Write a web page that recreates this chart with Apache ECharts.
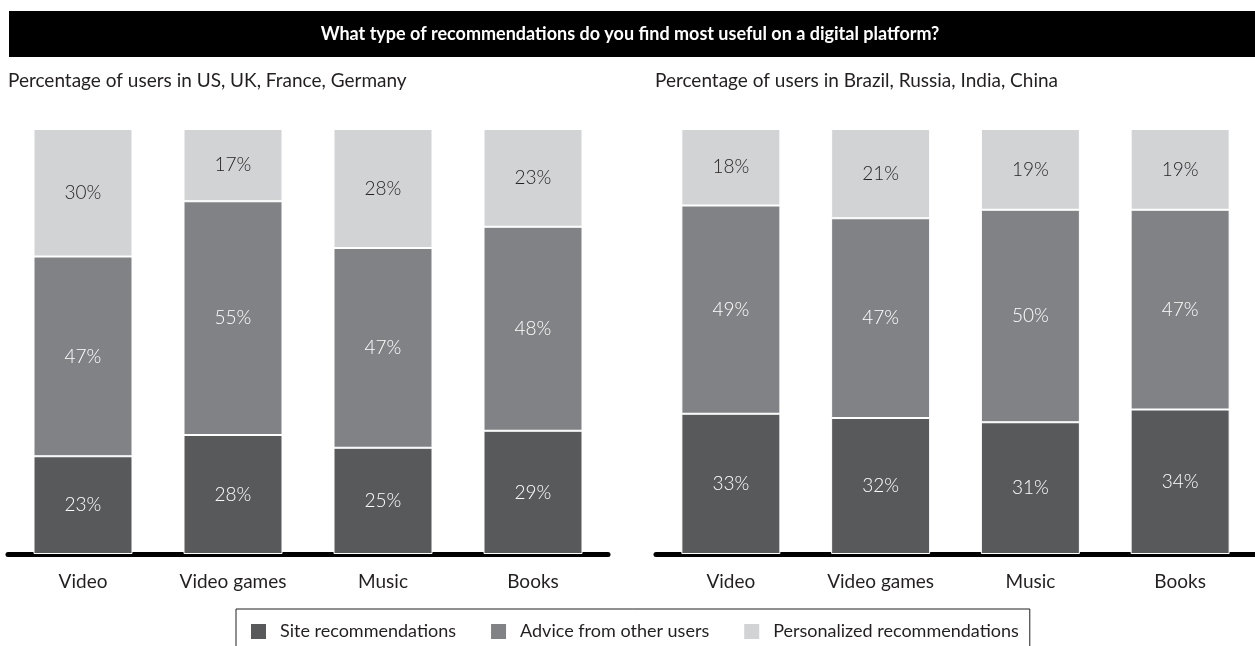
<!DOCTYPE html>
<html>
<head>
<meta charset="utf-8">
<script src="https://cdn.jsdelivr.net/npm/echarts@6/dist/echarts.min.js"></script>
<style>
  html, body { margin: 0; padding: 0; background: #fff; }
  #chart { width: 1255px; height: 646px; }
</style>
</head>
<body>
<div id="chart"></div>
<script>
// Survey categories (same for both regions)
const categories = ['Video', 'Video games', 'Music', 'Books'];

// US, UK, France, Germany (%)
const westSite = [23, 28, 25, 29];
const westAdvice = [47, 55, 47, 48];
const westPersonal = [30, 17, 28, 23];

// Brazil, Russia, India, China (%)
const bricSite = [33, 32, 31, 34];
const bricAdvice = [49, 47, 50, 47];
const bricPersonal = [18, 21, 19, 19];

const seriesNames = ['Site recommendations', 'Advice from other users', 'Personalized recommendations'];
const colors = ['#58595b', '#808285', '#d1d3d4'];
const labelColors = ['#ffffff', '#ffffff', '#231f20'];

const FONT = 'Lato, "Open Sans", sans-serif';
const TEXT = '#231f20';

function stackSeries(values, idx) {
  return values.map((vals, i) => ({
    name: seriesNames[i],
    type: 'bar',
    stack: 'g' + idx,
    xAxisIndex: idx,
    yAxisIndex: idx,
    barWidth: 99,
    data: vals,
    itemStyle: { color: colors[i], borderColor: '#ffffff', borderWidth: 1 },
    label: {
      show: true,
      position: 'inside',
      formatter: '{c}%',
      color: labelColors[i],
      fontFamily: FONT,
      fontWeight: 300,
      fontSize: 19
    },
    emphasis: { disabled: true }
  }));
}

function xAxisFor(idx) {
  return {
    type: 'category',
    gridIndex: idx,
    data: categories,
    offset: 3,
    axisLine: { show: true, lineStyle: { color: '#000', width: 5 } },
    axisTick: { show: false },
    axisLabel: { color: TEXT, fontFamily: FONT, fontSize: 19, margin: 15 }
  };
}

function yAxisFor(idx) {
  return { type: 'value', gridIndex: idx, min: 0, max: 100, show: false, splitLine: { show: false } };
}

const chart = echarts.init(document.getElementById('chart'), null, { renderer: 'canvas' });

chart.setOption({
  animation: false,
  backgroundColor: '#ffffff',
  graphic: [
    { type: 'rect', left: 9, top: 11, shape: { width: 1246, height: 46 }, style: { fill: '#000' }, z: -1 }
  ],
  title: [
    {
      text: 'What type of recommendations do you find most useful on a digital platform?',
      left: 630, top: 25, textAlign: 'center', padding: 0,
      textStyle: { color: '#fff', fontFamily: FONT, fontWeight: 'bold', fontSize: 18 }
    },
    {
      text: 'Percentage of users in US, UK, France, Germany',
      left: 8, top: 71, padding: 0,
      textStyle: { color: TEXT, fontFamily: FONT, fontWeight: 'normal', fontSize: 19 }
    },
    {
      text: 'Percentage of users in Brazil, Russia, India, China',
      left: 655, top: 71, padding: 0,
      textStyle: { color: TEXT, fontFamily: FONT, fontWeight: 'normal', fontSize: 19 }
    }
  ],
  legend: {
    data: seriesNames,
    left: 236, top: 609,
    padding: [13, 11, 40, 13],
    itemWidth: 17, itemHeight: 17,
    itemGap: 33,
    icon: 'rect',
    borderColor: TEXT, borderWidth: 1,
    textStyle: { color: TEXT, fontFamily: FONT, fontSize: 18, padding: [0, 0, 0, 8] },
    selectedMode: false
  },
  grid: [
    { left: 8, top: 129, width: 600, height: 425 },
    { left: 656, top: 129, width: 600, height: 425 }
  ],
  xAxis: [xAxisFor(0), xAxisFor(1)],
  yAxis: [yAxisFor(0), yAxisFor(1)],
  series: [
    ...stackSeries([westSite, westAdvice, westPersonal], 0),
    ...stackSeries([bricSite, bricAdvice, bricPersonal], 1)
  ]
});
</script>
</body>
</html>
